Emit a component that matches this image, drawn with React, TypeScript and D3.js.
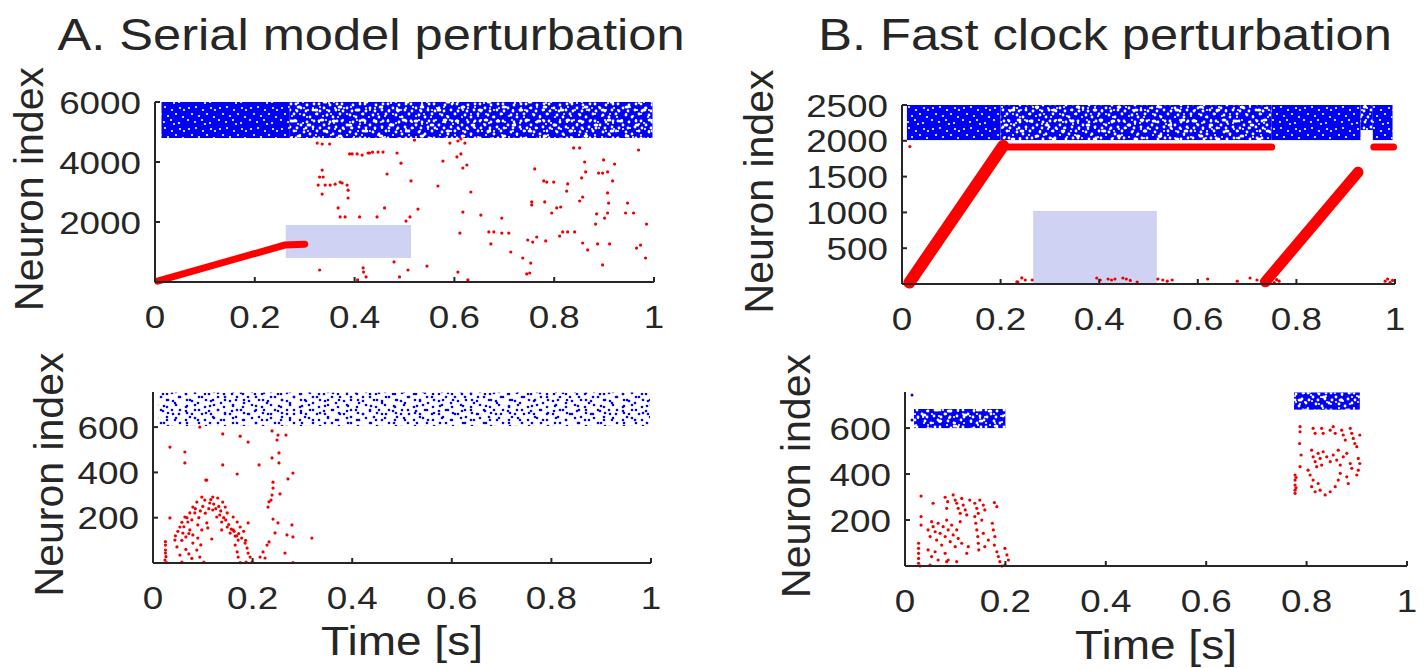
import React from "react";
import * as d3 from "d3";

// shared x ticks (time in seconds)
const timeTicks = [0, 0.2, 0.4, 0.6, 0.8, 1];

// ---- A. Serial model perturbation, full network (top) ----
const serialTopYTicks = [2000, 4000, 6000];
const serialTopBlue = [
  { t0: 0.013, t1: 0.27, n0: 4800, n1: 6000, dens: "dense" },
  { t0: 0.27, t1: 0.997, n0: 4800, n1: 6000, dens: "medium" },
];
const serialTopChain = [[[0.005, 30], [0.26, 1230], [0.3, 1260]]];
const serialTopShade = { t0: 0.262, t1: 0.513, n0: 800, n1: 1900 };
const serialTopRed = [
  [0.325, 4630], [0.335, 4600], [0.35, 4600], [0.39, 4270], [0.395, 4270], [0.405, 4270],
  [0.335, 3730], [0.33, 3500], [0.337, 3500], [0.327, 3230], [0.341, 3230], [0.351, 3230],
  [0.361, 3260], [0.371, 3330], [0.375, 3300], [0.385, 3230], [0.335, 2930], [0.387, 3060],
  [0.387, 2800], [0.367, 2470], [0.371, 2170], [0.381, 2170], [0.41, 2170], [0.33, 400],
  [0.415, 4230], [0.427, 4300], [0.43, 4300], [0.436, 4330], [0.447, 4330], [0.457, 4330],
  [0.485, 4300], [0.493, 3960], [0.52, 4730], [0.465, 3600], [0.513, 3370], [0.46, 2470],
  [0.527, 2430], [0.445, 2170], [0.503, 2030], [0.511, 2170], [0.479, 670], [0.417, 470],
  [0.418, 330], [0.423, 170], [0.406, 70], [0.49, 170], [0.507, 400], [0.545, 530],
  [0.567, 3200], [0.577, 4030], [0.591, 4630], [0.607, 4700], [0.613, 4770], [0.605, 4170],
  [0.613, 4270], [0.621, 4630], [0.617, 3800], [0.625, 3900], [0.633, 3000], [0.617, 2330],
  [0.611, 1630], [0.607, 330], [0.627, 70], [0.653, 2230], [0.669, 1670], [0.679, 1670],
  [0.673, 1270], [0.695, 2130], [0.695, 1630], [0.709, 1630], [0.713, 1000], [0.737, 800],
  [0.747, 1400], [0.757, 1330], [0.765, 1500], [0.753, 630], [0.745, 270], [0.751, 300],
  [0.755, 2670], [0.755, 2570], [0.761, 3770], [0.779, 3370], [0.785, 3330], [0.781, 2670],
  [0.783, 1370], [0.799, 3330], [0.795, 2300], [0.805, 2470], [0.813, 2500], [0.811, 1530],
  [0.817, 1670], [0.827, 1670], [0.841, 1670], [0.825, 3030], [0.827, 3270], [0.839, 4470],
  [0.851, 4470], [0.861, 4000], [0.863, 3670], [0.855, 3470], [0.851, 2700], [0.857, 2830],
  [0.857, 1300], [0.867, 1070], [0.885, 2270], [0.883, 1930], [0.887, 1270], [0.889, 3630],
  [0.897, 3630], [0.907, 3670], [0.899, 4070], [0.921, 3930], [0.917, 3370], [0.907, 2970],
  [0.909, 2630], [0.901, 2130], [0.907, 2300], [0.911, 1270], [0.897, 570], [0.947, 2630],
  [0.943, 2300], [0.959, 2300], [0.969, 4400], [0.985, 1930], [0.965, 1130], [0.973, 1230],
  [0.983, 800],
];

// ---- A. Serial model, zoomed subset (bottom) ----
const serialBotYTicks = [200, 400, 600];
const serialBotBlue = [{ t0: 0.01, t1: 0.998, n0: 605, n1: 752, dens: "sparse" }];
const serialBotRed = [
  [0.034, 512], [0.064, 490], [0.064, 442], [0.094, 600], [0.14, 570], [0.175, 560],
  [0.191, 534], [0.239, 583], [0.251, 565], [0.267, 565], [0.249, 543], [0.239, 464],
  [0.253, 486], [0.253, 442], [0.14, 433], [0.169, 393], [0.213, 433], [0.106, 366],
  [0.281, 397], [0.271, 371], [0.241, 357], [0.241, 331], [0.239, 300], [0.237, 278],
  [0.255, 305], [0.233, 270], [0.231, 247], [0.241, 194], [0.251, 177], [0.245, 133],
  [0.279, 168], [0.281, 115], [0.269, 124], [0.319, 110], [0.265, 44], [0.281, 2],
  [0.233, 93], [0.229, 79], [0.221, 49], [0.215, 26], [0.225, 22],
  [0.025, 94], [0.025, 79], [0.025, 57], [0.025, 44], [0.026, 28], [0.024, 13], [0.027, 2],
  [0.034, 199], [0.044, 101], [0.048, 71], [0.054, 35], [0.058, 4], [0.054, 159], [0.06, 132],
  [0.066, 115], [0.064, 203], [0.07, 181], [0.074, 146], [0.08, 124], [0.08, 88], [0.088, 57],
  [0.094, 26], [0.102, 4], [0.084, 221], [0.09, 168], [0.098, 146], [0.074, 221], [0.108, 177],
  [0.11, 155], [0.098, 291], [0.104, 278], [0.114, 265], [0.12, 234], [0.128, 203], [0.108, 366],
  [0.118, 106], [0.134, 212], [0.138, 181], [0.12, 291], [0.13, 287], [0.14, 269], [0.145, 247],
  [0.149, 221], [0.138, 146], [0.149, 159], [0.155, 132], [0.161, 146], [0.165, 119], [0.171, 101],
  [0.161, 203], [0.169, 181], [0.175, 159], [0.165, 79], [0.169, 49], [0.171, 26], [0.175, 2],
  [0.185, 88], [0.189, 66], [0.191, 44], [0.195, 26], [0.199, 4], [0.187, 4], [0.191, 177],
  [0.08, 247], [0.088, 269],
  [0.045, 120], [0.05, 140], [0.058, 180], [0.062, 160], [0.068, 200], [0.072, 130], [0.078, 190],
  [0.085, 240], [0.092, 200], [0.095, 230], [0.1, 250], [0.105, 220], [0.112, 240], [0.116, 280],
  [0.122, 260], [0.126, 240], [0.132, 250], [0.136, 230], [0.142, 200], [0.146, 190], [0.152, 170],
  [0.157, 150], [0.163, 140], [0.168, 120], [0.172, 130], [0.178, 110], [0.182, 140], [0.186, 100],
  [0.058, 100], [0.066, 60], [0.072, 40], [0.078, 20], [0.09, 110], [0.096, 80],
];

// ---- B. Fast clock perturbation, full network (top) ----
const clockTopYTicks = [500, 1000, 1500, 2000, 2500];
const clockTopBlue = [
  { t0: 0.01, t1: 0.2, n0: 2010, n1: 2500, dens: "dense" },
  { t0: 0.2, t1: 0.75, n0: 2010, n1: 2500, dens: "medium" },
  { t0: 0.75, t1: 0.93, n0: 2010, n1: 2500, dens: "dense" },
  { t0: 0.93, t1: 0.955, n0: 2150, n1: 2500, dens: "medium" },
  { t0: 0.955, t1: 0.995, n0: 2010, n1: 2500, dens: "dense" },
];
const clockTopChain = [
  [[0.015, 20], [0.205, 1930]],
  [[0.205, 1915], [0.75, 1915]],
  [[0.737, 30], [0.925, 1560]],
  [[0.957, 1915], [0.997, 1915]],
];
const clockTopShade = { t0: 0.266, t1: 0.517, n0: 0, n1: 1020 };
const clockTopRed = [
  [0.016, 1920], [0.233, 30], [0.243, 85], [0.264, 56], [0.235, 28], [0.25, 56],
  [0.395, 84], [0.402, 56], [0.418, 70], [0.425, 56], [0.432, 70], [0.448, 84], [0.455, 70],
  [0.463, 50], [0.477, 28], [0.519, 70], [0.529, 56], [0.538, 40], [0.548, 56], [0.62, 70],
  [0.68, 40], [0.706, 84], [0.72, 56], [0.98, 40], [0.99, 20], [0.995, 50], [0.985, 70],
  [0.022, 150], [0.03, 60], [0.028, 250], [0.012, 80], [0.735, 30], [0.745, 50],
  [0.755, 20], [0.765, 40], [0.75, 80], [0.76, 60],
];

// ---- B. Fast clock, zoomed subset (bottom) ----
const clockBotYTicks = [200, 400, 600];
const clockBotBlue = [
  { t0: 0.018, t1: 0.2, n0: 600, n1: 683, dens: "medium" },
  { t0: 0.775, t1: 0.906, n0: 680, n1: 755, dens: "medium" },
];
const clockBotBlueDots = [[0.014, 744], [0.014, 635]];
const clockBotRed = [
  [0.032, 304], [0.056, 273], [0.08, 299], [0.085, 280], [0.083, 251], [0.096, 309], [0.1, 287],
  [0.103, 273], [0.106, 251], [0.11, 229], [0.113, 294], [0.116, 265], [0.12, 244], [0.123, 222],
  [0.129, 287], [0.139, 273], [0.143, 251], [0.146, 229], [0.149, 287], [0.156, 265], [0.159, 244],
  [0.178, 276], [0.183, 258],
  [0.027, 99], [0.027, 77], [0.027, 55], [0.027, 33], [0.027, 12], [0.03, 0], [0.032, 215], [0.032, 178],
  [0.046, 157], [0.05, 128], [0.053, 193], [0.056, 171], [0.06, 149], [0.063, 113], [0.066, 186],
  [0.07, 142], [0.073, 91], [0.076, 171], [0.08, 128], [0.083, 200], [0.086, 157], [0.09, 106],
  [0.093, 178], [0.096, 135], [0.1, 84], [0.103, 157], [0.106, 120], [0.11, 193], [0.113, 99],
  [0.046, 70], [0.053, 41], [0.06, 62], [0.066, 26], [0.05, 4], [0.08, 55], [0.086, 26],
  [0.139, 215], [0.141, 186], [0.143, 157], [0.145, 128], [0.146, 99], [0.147, 70], [0.153, 200],
  [0.156, 142], [0.159, 84], [0.166, 113], [0.174, 186], [0.176, 157], [0.179, 128], [0.178, 91],
  [0.183, 62], [0.186, 41], [0.189, 19], [0.193, 0], [0.199, 77], [0.203, 48], [0.206, 26],
  [0.199, 4], [0.126, 84], [0.123, 55], [0.103, 19], [0.083, 19],
  [0.777, 396], [0.777, 374], [0.777, 352], [0.777, 330], [0.777, 316], [0.779, 385], [0.779, 340],
  [0.787, 606], [0.787, 584], [0.786, 533], [0.813, 599], [0.817, 577], [0.83, 599], [0.833, 577],
  [0.847, 591], [0.853, 606], [0.857, 577], [0.87, 591], [0.873, 570], [0.877, 548], [0.887, 599],
  [0.89, 577], [0.893, 555], [0.896, 533], [0.9, 519], [0.906, 570], [0.789, 483], [0.787, 432],
  [0.81, 504], [0.813, 475], [0.817, 454], [0.82, 432], [0.823, 490], [0.827, 468], [0.83, 439],
  [0.833, 497], [0.84, 475], [0.847, 454], [0.853, 483], [0.86, 461], [0.867, 439], [0.863, 504],
  [0.873, 475], [0.88, 490], [0.887, 446], [0.89, 425], [0.903, 468], [0.906, 446], [0.903, 417],
  [0.9, 396], [0.803, 417], [0.807, 396], [0.813, 374], [0.823, 359], [0.827, 330], [0.837, 309],
  [0.847, 323], [0.857, 345], [0.863, 374], [0.867, 403], [0.88, 388], [0.883, 359], [0.81, 345],
  [0.817, 323],
];

const INK = "#262626";
const FONT = "'Liberation Sans', Arial, Helvetica, sans-serif";
const SHADE = "#d0d2f3";
const BLUE = "#0000f5";
const STRETCH = 1.15;

function Txt({ x, y, size, anchor = "middle", children }) {
  return (
    <text
      transform={`translate(${x},${y}) scale(${STRETCH},1)`}
      fontSize={size}
      textAnchor={anchor}
      fill={INK}
      fontFamily={FONT}
    >
      {children}
    </text>
  );
}

function Raster({ box, yMax, yTicks, blue, chains = [], chainWidth = 7, red, blueDots = [], shade, ylabelX, xlabel }) {
  const x = d3.scaleLinear().domain([0, 1]).range([box.left, box.right]);
  const y = d3.scaleLinear().domain([0, yMax]).range([box.bottom, box.top]);
  const chainPath = d3.line().x((d) => x(d[0])).y((d) => y(d[1]));

  return (
    <g>
      {shade && (
        <rect
          x={x(shade.t0)}
          y={y(shade.n1)}
          width={x(shade.t1) - x(shade.t0)}
          height={y(shade.n0) - y(shade.n1)}
          fill={SHADE}
        />
      )}
      {blue.map((b, i) => {
        const r = { x: x(b.t0), y: y(b.n1), width: x(b.t1) - x(b.t0), height: y(b.n0) - y(b.n1) };
        if (b.dens === "sparse")
          return (
            <g key={i}>
              <rect {...r} fill="url(#blueDotsA)" />
              <rect {...r} fill="url(#blueDotsB)" />
            </g>
          );
        return (
          <g key={i}>
            <rect {...r} fill={BLUE} />
            <rect {...r} fill="url(#speckA)" />
            {b.dens === "medium" && <rect {...r} fill="url(#speckB)" />}
            {b.dens === "medium" && <rect {...r} fill="url(#speckC)" />}
          </g>
        );
      })}
      {blueDots.map((d, i) => (
        <circle key={i} cx={x(d[0])} cy={y(d[1])} r={1.5} fill={BLUE} />
      ))}
      {chains.map((c, i) => (
        <path key={i} d={chainPath(c)} fill="none" stroke="#ff0000" strokeWidth={Array.isArray(chainWidth) ? chainWidth[i] : chainWidth} strokeLinecap="round" />
      ))}
      {red.map((d, i) => (
        <circle key={i} cx={x(d[0])} cy={y(d[1])} r={1.6} fill="#ee0000" />
      ))}

      {/* axes */}
      <line x1={box.left} x2={box.right} y1={box.bottom} y2={box.bottom} stroke={INK} strokeWidth={2} />
      <line x1={box.left} x2={box.left} y1={box.bottom} y2={box.top} stroke={INK} strokeWidth={2} />
      {timeTicks.map((v) => (
        <g key={v}>
          <line x1={x(v)} x2={x(v)} y1={box.bottom} y2={box.bottom - 5} stroke={INK} strokeWidth={2} />
          <Txt x={x(v)} y={box.bottom + 46} size={32}>{String(v)}</Txt>
        </g>
      ))}
      {yTicks.map((v) => (
        <g key={v}>
          <line x1={box.left} x2={box.left + 5} y1={y(v)} y2={y(v)} stroke={INK} strokeWidth={2} />
          <Txt x={box.left - 14} y={y(v) + 11.5} size={32} anchor="end">{String(v)}</Txt>
        </g>
      ))}
      <text
        transform={`translate(${ylabelX},${(box.top + box.bottom) / 2 - 3}) rotate(-90)`}
        fontSize={41}
        textAnchor="middle"
        fill={INK}
        fontFamily={FONT}
      >
        Neuron index
      </text>
      {xlabel && <Txt x={(box.left + box.right) / 2} y={xlabel} size={40}>Time [s]</Txt>}
    </g>
  );
}

export default function App() {
  return (
    <svg width={1424} height={668} style={{ position: "absolute", left: 0, top: 0, background: "#fff" }}>
      <defs>
        <pattern id="speckA" width={31} height={21} patternUnits="userSpaceOnUse">
          {[[3, 3], [10, 2], [17, 5], [25, 3], [6, 9], [13, 11], [21, 9], [28, 12], [2, 15], [9, 17], [16, 15], [24, 18], [29, 5], [19, 19]].map((p, i) => (
            <circle key={i} cx={p[0]} cy={p[1]} r={1.1} fill="#fff" />
          ))}
        </pattern>
        <pattern id="speckB" width={23} height={17} patternUnits="userSpaceOnUse">
          {[[2, 6], [8, 3], [14, 8], [20, 2], [5, 13], [11, 15], [18, 12], [21, 9], [7, 9], [15, 2]].map((p, i) => (
            <circle key={i} cx={p[0]} cy={p[1]} r={1.4} fill="#fff" />
          ))}
        </pattern>
        <pattern id="speckC" width={41} height={29} patternUnits="userSpaceOnUse">
          {[[6, 5], [22, 9], [35, 4], [12, 20], [29, 23], [38, 15]].map((p, i) => (
            <ellipse key={i} cx={p[0]} cy={p[1]} rx={2.4} ry={1.6} fill="#fff" />
          ))}
        </pattern>
        <pattern id="blueDotsA" width={23} height={17} patternUnits="userSpaceOnUse">
          {[[2, 3], [11, 2], [18, 6], [6, 9], [14, 12], [3, 15]].map((p, i) => (
            <circle key={i} cx={p[0]} cy={p[1]} r={1.3} fill={BLUE} />
          ))}
        </pattern>
        <pattern id="blueDotsB" width={19} height={13} patternUnits="userSpaceOnUse">
          {[[5, 2], [15, 4], [9, 7], [2, 11], [16, 10]].map((p, i) => (
            <circle key={i} cx={p[0]} cy={p[1]} r={1.3} fill={BLUE} />
          ))}
        </pattern>
      </defs>

      <Txt x={371} y={50} size={44}>A. Serial model perturbation</Txt>
      <Txt x={1105} y={50} size={44}>B. Fast clock perturbation</Txt>

      <Raster
        box={{ left: 155, right: 654, top: 102, bottom: 282 }}
        yMax={6000}
        yTicks={serialTopYTicks}
        blue={serialTopBlue}
        chains={serialTopChain}
        chainWidth={7}
        red={serialTopRed}
        shade={serialTopShade}
        ylabelX={43}
      />
      <Raster
        box={{ left: 153, right: 651, top: 392, bottom: 563 }}
        yMax={755}
        yTicks={serialBotYTicks}
        blue={serialBotBlue}
        red={serialBotRed}
        ylabelX={63}
        xlabel={655}
      />
      <Raster
        box={{ left: 902, right: 1395, top: 105, bottom: 284 }}
        yMax={2500}
        yTicks={clockTopYTicks}
        blue={clockTopBlue}
        chains={clockTopChain}
        chainWidth={[12, 7, 11, 7]}
        red={clockTopRed}
        shade={clockTopShade}
        ylabelX={773}
      />
      <Raster
        box={{ left: 905, right: 1407, top: 392, bottom: 566 }}
        yMax={757}
        yTicks={clockBotYTicks}
        blue={clockBotBlue}
        blueDots={clockBotBlueDots}
        red={clockBotRed}
        ylabelX={810}
        xlabel={659}
      />
    </svg>
  );
}
